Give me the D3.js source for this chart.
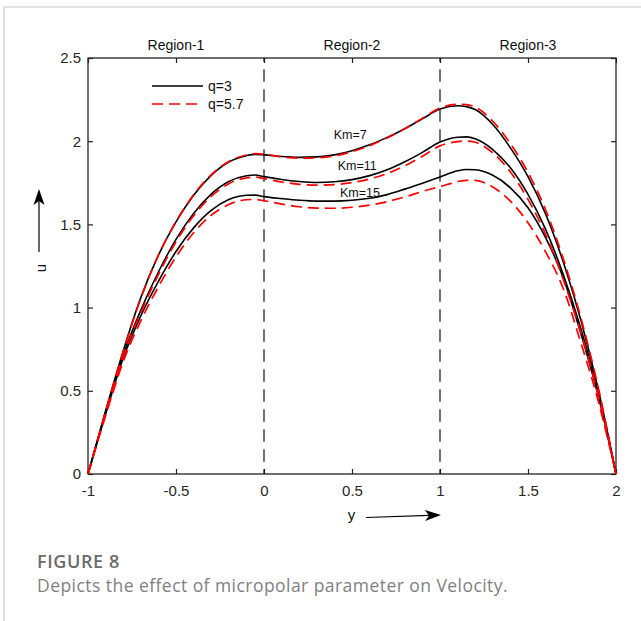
<!DOCTYPE html>
<html>
<head>
<meta charset="utf-8">
<script src="https://cdn.jsdelivr.net/npm/d3@7"></script>
<style>
  html, body { margin: 0; padding: 0; background: #fff; }
  svg { display: block; }
</style>
</head>
<body>
<svg id="chart" width="641" height="621"></svg>
<script>
// Transverse coordinate y across the three fluid layers
const yValues = [-1, -0.9, -0.8, -0.7, -0.6, -0.5, -0.4, -0.3, -0.2, -0.1, -0.05, 0,
                 0.1, 0.2, 0.3, 0.4, 0.5, 0.6, 0.7, 0.8, 0.9, 1.0,
                 1.1, 1.15, 1.2, 1.3, 1.4, 1.5, 1.6, 1.7, 1.8, 1.9, 2.0];

// Velocity u for q = 3 (solid black)
const uKm7_q3 = [0, 0.38, 0.74, 1.06, 1.315, 1.515, 1.675, 1.795, 1.875, 1.913, 1.921, 1.918,
                 1.908, 1.903, 1.906, 1.918, 1.943, 1.978, 2.023, 2.075, 2.135, 2.193,
                 2.213, 2.208, 2.19, 2.10, 1.96, 1.787, 1.563, 1.275, 0.925, 0.505, 0];
const uKm11_q3 = [0, 0.37, 0.715, 0.985, 1.214, 1.41, 1.566, 1.682, 1.758, 1.792, 1.797, 1.787,
                  1.77, 1.758, 1.752, 1.756, 1.769, 1.793, 1.828, 1.876, 1.933, 1.995,
                  2.024, 2.026, 2.015, 1.95, 1.84, 1.68, 1.47, 1.2, 0.875, 0.485, 0];
const uKm15_q3 = [0, 0.36, 0.695, 0.95, 1.158, 1.337, 1.479, 1.584, 1.649, 1.675, 1.676, 1.667,
                  1.655, 1.645, 1.64, 1.64, 1.645, 1.657, 1.679, 1.712, 1.748, 1.785,
                  1.822, 1.83, 1.828, 1.795, 1.72, 1.6, 1.42, 1.18, 0.845, 0.465, 0];

// Velocity u for q = 5.7 (dashed red)
const uKm7_q57 = [0, 0.375, 0.735, 1.055, 1.315, 1.517, 1.678, 1.798, 1.878, 1.917, 1.925, 1.922,
                  1.906, 1.898, 1.9, 1.912, 1.937, 1.973, 2.02, 2.075, 2.138, 2.2,
                  2.222, 2.22, 2.205, 2.12, 1.985, 1.812, 1.588, 1.295, 0.94, 0.515, 0];
const uKm11_q57 = [0, 0.365, 0.705, 0.97, 1.198, 1.395, 1.552, 1.668, 1.745, 1.78, 1.784, 1.775,
                   1.755, 1.741, 1.736, 1.739, 1.751, 1.773, 1.806, 1.852, 1.91, 1.972,
                   1.998, 2.001, 1.994, 1.93, 1.815, 1.65, 1.44, 1.17, 0.85, 0.47, 0];
const uKm15_q57 = [0, 0.35, 0.675, 0.92, 1.125, 1.305, 1.45, 1.555, 1.62, 1.648, 1.65, 1.642,
                   1.622, 1.606, 1.598, 1.597, 1.603, 1.616, 1.637, 1.665, 1.698, 1.727,
                   1.757, 1.765, 1.764, 1.725, 1.64, 1.51, 1.335, 1.115, 0.79, 0.435, 0];

// Axis ticks
const xTicks = [-1, -0.5, 0, 0.5, 1, 1.5, 2];
const xTickLabels = ["-1", "-0.5", "0", "0.5", "1", "1.5", "2"];
const yTicks = [0, 0.5, 1, 1.5, 2, 2.5];
const yTickLabels = ["0", "0.5", "1", "1.5", "2", "2.5"];

// Layer boundaries and region names
const boundaries = [0, 1];
const regionNames = ["Region-1", "Region-2", "Region-3"];
const regionSpans = [[-1, 0], [0, 1], [1, 2]];

// Curve annotations (label, y, u)
const kmLabels = ["Km=7", "Km=11", "Km=15"];
const kmLabelY = [0.49, 0.53, 0.545];
const kmLabelU = [2.013, 1.827, 1.665];

const legendLabels = ["q=3", "q=5.7"];

// ---------------------------------------------------------------
const svg = d3.select("#chart");
const W = 641, H = 621;
const plot = { left: 88, right: 616, top: 58, bottom: 474 };

svg.append("rect").attr("width", W).attr("height", H).attr("fill", "#fff");

// Card frame
svg.append("path")
  .attr("d", `M4,${H} L4,7 L${W},7`)
  .attr("fill", "none").attr("stroke", "#dadada").attr("stroke-width", 1.6);

const x = d3.scaleLinear().domain([-1, 2]).range([plot.left, plot.right]);
const y = d3.scaleLinear().domain([0, 2.5]).range([plot.bottom, plot.top]);

const axisColor = "#222";
const tickFont = "'Liberation Sans', Arial, sans-serif";

// Bottom axis with labels (inward ticks)
const gx = svg.append("g").attr("transform", `translate(0,${plot.bottom})`)
  .call(d3.axisBottom(x).tickValues(xTicks)
    .tickFormat((d, i) => xTickLabels[i]).tickSizeInner(-5).tickSizeOuter(0).tickPadding(11));
// Top axis (ticks only)
const gxt = svg.append("g").attr("transform", `translate(0,${plot.top})`)
  .call(d3.axisTop(x).tickValues(xTicks).tickFormat("").tickSizeInner(-5).tickSizeOuter(0));
// Left axis with labels
const gy = svg.append("g").attr("transform", `translate(${plot.left},0)`)
  .call(d3.axisLeft(y).tickValues(yTicks)
    .tickFormat((d, i) => yTickLabels[i]).tickSizeInner(-5).tickSizeOuter(0).tickPadding(7));
// Right axis (ticks only)
const gyr = svg.append("g").attr("transform", `translate(${plot.right},0)`)
  .call(d3.axisRight(y).tickValues(yTicks).tickFormat("").tickSizeInner(-5).tickSizeOuter(0));

[gx, gxt, gy, gyr].forEach(g => {
  g.select(".domain").remove();
  g.selectAll(".tick line").attr("stroke", axisColor).attr("stroke-width", 1.2);
  g.selectAll(".tick text").attr("fill", "#262626")
    .style("font-family", tickFont).style("font-size", "15px");
});

// Plot box
svg.append("rect")
  .attr("x", plot.left).attr("y", plot.top)
  .attr("width", plot.right - plot.left).attr("height", plot.bottom - plot.top)
  .attr("fill", "none").attr("stroke", axisColor).attr("stroke-width", 1.3);

// Layer interfaces
svg.selectAll(".boundary").data(boundaries).enter().append("line")
  .attr("class", "boundary")
  .attr("x1", d => x(d)).attr("x2", d => x(d))
  .attr("y1", plot.top).attr("y2", plot.bottom)
  .attr("stroke", "#111").attr("stroke-width", 1.2)
  .attr("stroke-dasharray", "12.5,7.5").attr("stroke-dashoffset", 8.7);

// Region titles above the plot
svg.selectAll(".region").data(regionNames).enter().append("text")
  .attr("class", "region")
  .attr("x", (d, i) => x((regionSpans[i][0] + regionSpans[i][1]) / 2))
  .attr("y", 50)
  .attr("text-anchor", "middle")
  .style("font-family", tickFont).style("font-size", "14px").attr("fill", "#111")
  .text(d => d);

// Velocity profiles
const line = d3.line()
  .x((d, i) => x(yValues[i]))
  .y(d => y(d))
  .curve(d3.curveMonotoneX);

const solidSeries = [uKm7_q3, uKm11_q3, uKm15_q3];
const dashedSeries = [uKm7_q57, uKm11_q57, uKm15_q57];

svg.selectAll(".solid").data(solidSeries).enter().append("path")
  .attr("class", "solid")
  .attr("d", line)
  .attr("fill", "none").attr("stroke", "#000").attr("stroke-width", 1.6);

svg.selectAll(".dashed").data(dashedSeries).enter().append("path")
  .attr("class", "dashed")
  .attr("d", line)
  .attr("fill", "none").attr("stroke", "#ff0000").attr("stroke-width", 1.7)
  .attr("stroke-dasharray", "11,6");

// Km annotations
svg.selectAll(".km").data(kmLabels).enter().append("text")
  .attr("class", "km")
  .attr("x", (d, i) => x(kmLabelY[i]))
  .attr("y", (d, i) => y(kmLabelU[i]))
  .attr("text-anchor", "middle")
  .style("font-family", tickFont).style("font-size", "12.5px").attr("fill", "#111")
  .text(d => d);

// Legend
const legend = svg.append("g").attr("transform", "translate(152,86)");
const legendStyles = [
  { stroke: "#000", dash: null },
  { stroke: "#ff0000", dash: "11,6" }
];
legendLabels.forEach((lab, i) => {
  const row = legend.append("g").attr("transform", `translate(0,${i * 18})`);
  row.append("line").attr("x1", 0).attr("x2", 51).attr("y1", 0).attr("y2", 0)
    .attr("stroke", legendStyles[i].stroke).attr("stroke-width", 1.7)
    .attr("stroke-dasharray", legendStyles[i].dash);
  row.append("text").attr("x", 56).attr("y", 4.5)
    .style("font-family", tickFont).style("font-size", "14px").attr("fill", "#111")
    .text(lab);
});

// Arrow helper: shaft from (x1,y1) to tip (x2,y2) with notched filled head
function arrow(x1, y1, x2, y2) {
  const ang = Math.atan2(y2 - y1, x2 - x1);
  const L = 16, hw = 5.5, notch = 4;
  const ux = Math.cos(ang), uy = Math.sin(ang);
  const px = -uy, py = ux;
  const bx = x2 - ux * L, by = y2 - uy * L;
  const nx = x2 - ux * (L - notch), ny = y2 - uy * (L - notch);
  svg.append("line").attr("x1", x1).attr("y1", y1).attr("x2", nx).attr("y2", ny)
    .attr("stroke", "#000").attr("stroke-width", 1.2);
  svg.append("path")
    .attr("d", `M${x2},${y2} L${bx + px * hw},${by + py * hw} L${nx},${ny} L${bx - px * hw},${by - py * hw} Z`)
    .attr("fill", "#000");
}

// Axis titles with direction arrows
svg.append("text")
  .attr("transform", "translate(46,268) rotate(-90)")
  .attr("text-anchor", "middle")
  .style("font-family", tickFont).style("font-size", "15px").attr("fill", "#111")
  .text("u");
arrow(39, 252, 39, 189);

svg.append("text")
  .attr("x", 351.5).attr("y", 520)
  .attr("text-anchor", "middle")
  .style("font-family", tickFont).style("font-size", "15px").attr("fill", "#111")
  .text("y");
arrow(366, 517.5, 441, 515);

// Caption
svg.append("text")
  .attr("x", 37).attr("y", 567.5)
  .style("font-family", "'Open Sans', 'Noto Sans', sans-serif")
  .style("font-size", "18px").style("font-weight", "600")
  .style("letter-spacing", "0.6px")
  .attr("fill", "#6b6b6b")
  .text("FIGURE 8");
svg.append("text")
  .attr("x", 37).attr("y", 591.5)
  .style("font-family", "'Open Sans', 'Noto Sans', sans-serif")
  .style("font-size", "17.5px")
  .style("letter-spacing", "0.45px")
  .attr("fill", "#7f7f7f")
  .text("Depicts the effect of micropolar parameter on Velocity.");
</script>
</body>
</html>
